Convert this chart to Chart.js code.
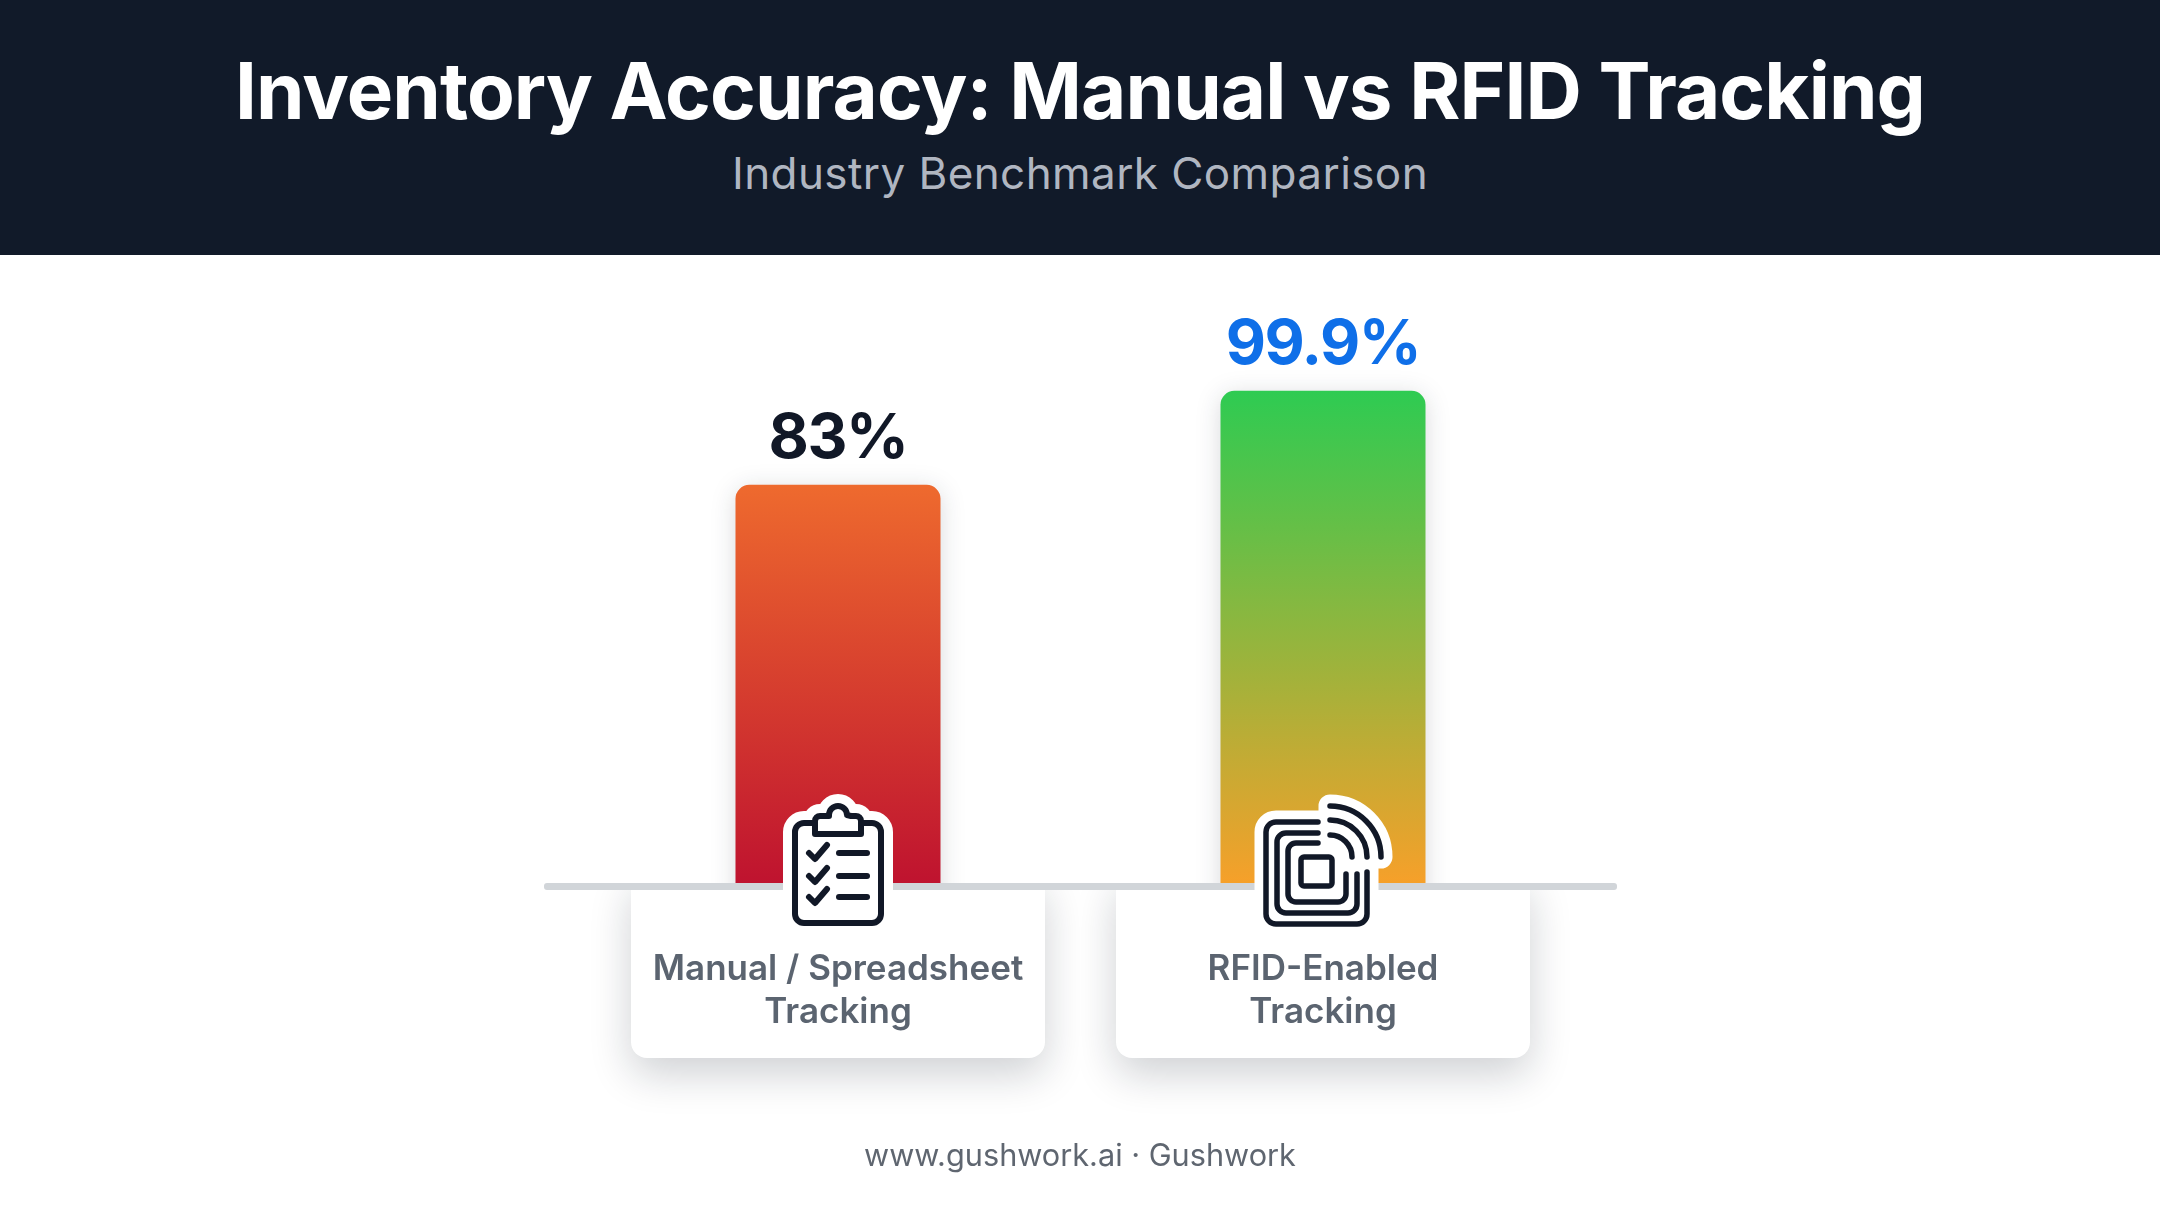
<!DOCTYPE html>
<html><head><meta charset="utf-8">
<style>
html,body{margin:0;padding:0;background:#fff;width:2160px;height:1206px;overflow:hidden;font-family:Inter,sans-serif}
#hdr{position:absolute;left:0;top:0;width:2160px;height:255px;background:#111a29;text-align:center}
#hdr h1{position:absolute;left:0;right:0;top:44px;margin:0;font:700 78px/94px Inter,sans-serif;color:#fff;letter-spacing:-0.9px}
#hdr p{position:absolute;left:0;right:0;top:145px;margin:0;font:400 44px/56px Inter,sans-serif;color:#b0b6c1;letter-spacing:0.42px}
#ftr{position:absolute;left:0;right:0;top:1134px;text-align:center;font:400 30.7px/42px Inter,sans-serif;color:#5f6670}
canvas{position:absolute;left:0;top:0;display:block}
</style>
<script src="https://cdn.jsdelivr.net/npm/chart.js@4/dist/chart.umd.min.js"></script>
</head><body>
<div id="hdr"><h1>Inventory Accuracy: Manual vs RFID Tracking</h1><p>Industry Benchmark Comparison</p></div>
<canvas id="c" width="2160" height="1206"></canvas>
<div id="ftr">www.gushwork.ai · Gushwork</div>
<script>
const categories = [['Manual / Spreadsheet','Tracking'],['RFID-Enabled','Tracking']];
const seriesValues = [83, 99.9];
const valueLabels = ['83%','99.9%'];
const valueColors = ['#111827','#0f6fe8'];
const topColors = ['#ee6a2e','#2ecb52'];
const bottomColors = ['#bf132f','#f6a02a'];
const yMin = 11.4, yMax = 120;

function rr(ctx,x,y,w,h,r){ctx.beginPath();ctx.roundRect(x,y,w,h,r);}

function drawClipboard(ctx,cx,by){
  ctx.save();ctx.translate(cx,by);
  ctx.lineCap='round';ctx.lineJoin='round';
  const tab=new Path2D();
  tab.moveTo(-23,-57);tab.arcTo(-23,-67,-13,-67,5);tab.lineTo(-9,-67);
  tab.arc(0,-68,9,Math.PI*1.0,0);tab.lineTo(13,-67);tab.arcTo(23,-67,23,-57,5);
  tab.lineTo(23,-49);tab.lineTo(-23,-49);tab.closePath();
  const body=new Path2D();
  body.roundRect(-43,-60,86,100,9);
  ctx.strokeStyle='#fff';ctx.fillStyle='#fff';ctx.lineWidth=24;
  ctx.stroke(body);ctx.stroke(tab);ctx.fill(body);ctx.fill(tab);
  ctx.strokeStyle='#111827';ctx.lineWidth=6;
  ctx.stroke(body);ctx.fill(tab);ctx.stroke(tab);
  [-30,-7,14].forEach(y=>{
    ctx.beginPath();ctx.moveTo(-29,y);ctx.lineTo(-23,y+6);ctx.lineTo(-11,y-8);ctx.stroke();
    ctx.beginPath();ctx.moveTo(1,y);ctx.lineTo(29,y);ctx.stroke();
  });
  ctx.restore();
}
function openRect(ctx,l,t,r,b,rad,endX,startY){
  ctx.moveTo(endX,t);ctx.lineTo(l+rad,t);ctx.arcTo(l,t,l,t+rad,rad);
  ctx.lineTo(l,b-rad);ctx.arcTo(l,b,l+rad,b,rad);
  ctx.lineTo(r-rad,b);ctx.arcTo(r,b,r,b-rad,rad);ctx.lineTo(r,startY);
}
function drawRfid(ctx,cx,by){
  ctx.save();ctx.translate(cx,by);
  ctx.lineCap='round';ctx.lineJoin='round';
  const ax=7,ay=-26;
  ctx.strokeStyle='#fff';ctx.fillStyle='#fff';ctx.lineWidth=23;
  rr(ctx,-57,-61,101,102,10);ctx.stroke();ctx.fill();
  ctx.beginPath();ctx.moveTo(ax,ay);ctx.lineTo(ax,ay-51);ctx.arc(ax,ay,51,-Math.PI/2,0);ctx.closePath();ctx.stroke();ctx.fill();
  ctx.strokeStyle='#111827';ctx.lineWidth=5.5;
  ctx.beginPath();
  openRect(ctx,-57,-61,44,41,10,-5,-11);
  openRect(ctx,-46,-50,34,30,9,-5,-9);
  openRect(ctx,-35,-40,23,19,8,-5,-9);
  ctx.stroke();
  rr(ctx,-22,-26,31,29,3);ctx.stroke();
  [51,37,22].forEach(r=>{ctx.beginPath();ctx.arc(ax,ay,r,-Math.PI/2,0);ctx.stroke();});
  ctx.restore();
}
const iconDrawers=[drawClipboard,drawRfid];

const decor={
  id:'decor',
  beforeDraw(chart){
    const ctx=chart.ctx,a=chart.chartArea,meta=chart.getDatasetMeta(0);
    ctx.save();
    ctx.beginPath();ctx.rect(0,a.bottom+7,2160,400);ctx.clip();
    meta.data.forEach(el=>{
      ctx.save();
      ctx.shadowColor='rgba(17,24,39,0.20)';ctx.shadowBlur=42;ctx.shadowOffsetY=16;
      ctx.fillStyle='#fff';
      rr(ctx,el.x-207,a.bottom-10,414,185,16);ctx.fill();
      ctx.restore();
    });
    ctx.restore();
  },
  beforeDatasetsDraw(chart){
    const ctx=chart.ctx,a=chart.chartArea;
    ctx.save();ctx.fillStyle='#d1d5d9';
    rr(ctx,a.left-51.5,a.bottom,1073,7,3);ctx.fill();ctx.restore();
  },
  beforeDatasetDraw(chart){
    const ctx=chart.ctx;ctx.save();
    ctx.shadowColor='rgba(17,24,39,0.16)';ctx.shadowBlur=24;ctx.shadowOffsetY=4;
  },
  afterDatasetDraw(chart){chart.ctx.restore();},
  afterDatasetsDraw(chart){
    const ctx=chart.ctx,a=chart.chartArea,meta=chart.getDatasetMeta(0);
    meta.data.forEach((el,i)=>{
      ctx.save();
      ctx.font='700 62px Inter, sans-serif';ctx.textAlign='center';ctx.textBaseline='alphabetic';
      ctx.letterSpacing='-1.5px';
      ctx.fillStyle=valueColors[i];
      ctx.fillText(valueLabels[i],el.x,el.y-27);
      ctx.restore();
      iconDrawers[i](ctx,el.x,a.bottom);
    });
  }
};

new Chart(document.getElementById('c'),{
  type:'bar',
  data:{labels:categories,datasets:[{
    data:seriesValues,
    backgroundColor(c){
      const a=c.chart.chartArea;
      if(!a||c.dataIndex===undefined)return topColors[0];
      const py=c.chart.scales.y.getPixelForValue(seriesValues[c.dataIndex]);
      const g=c.chart.ctx.createLinearGradient(0,py,0,a.bottom);
      g.addColorStop(0,topColors[c.dataIndex]);g.addColorStop(1,bottomColors[c.dataIndex]);
      return g;
    },
    borderRadius:{topLeft:14,topRight:14,bottomLeft:0,bottomRight:0},
    borderSkipped:'bottom',
    categoryPercentage:1,barPercentage:0.4227
  }]},
  options:{
    responsive:false,animation:false,devicePixelRatio:1,
    layout:{padding:{left:595.5,right:594.5,top:279,bottom:0}},
    plugins:{legend:{display:false},tooltip:{enabled:false},title:{display:false}},
    scales:{
      x:{
        afterFit(s){s.height=323;},
        border:{display:false},
        grid:{display:false,drawTicks:false},
        ticks:{color:'#5b6470',padding:65,maxRotation:0,autoSkip:false,
          font:{family:'Inter, sans-serif',size:35,weight:'600',lineHeight:1.229}}
      },
      y:{display:false,min:yMin,max:yMax}
    }
  },
  plugins:[decor]
});
</script>
</body></html>
